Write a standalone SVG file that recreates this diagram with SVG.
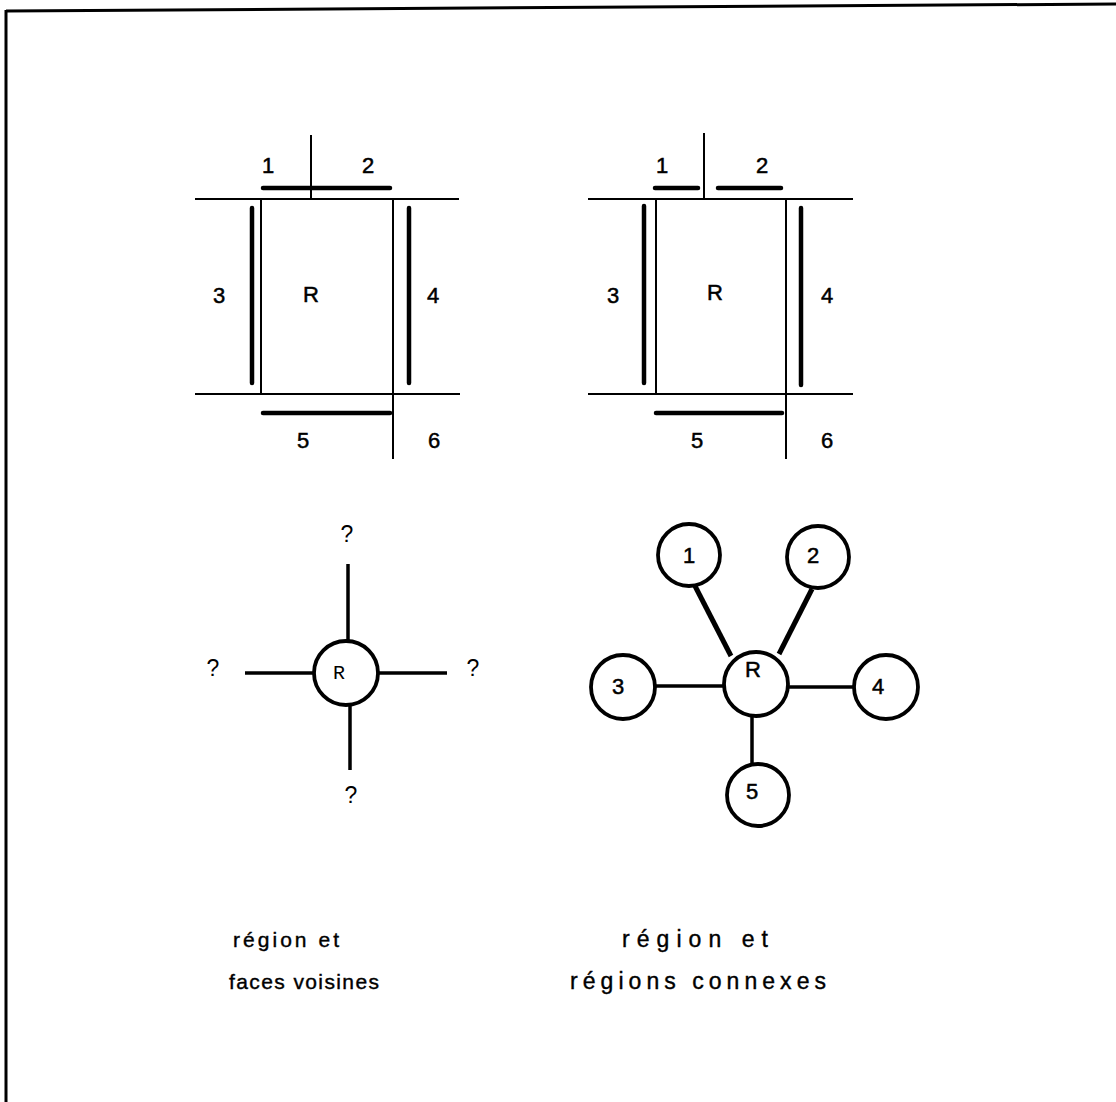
<svg xmlns="http://www.w3.org/2000/svg" width="1116" height="1102" viewBox="0 0 1116 1102">
  <style>
    .thin { stroke: #000; stroke-width: 2; fill: none; stroke-linecap: butt; }
    .bar { stroke: #000; stroke-width: 4.5; fill: none; stroke-linecap: round; }
    .edge { stroke: #000; stroke-width: 3.5; fill: none; }
    .edgeb { stroke: #000; stroke-width: 5; fill: none; }
    .node { stroke: #000; stroke-width: 3.8; fill: #fff; }
    .lbl { font-family: "Liberation Sans", Arial, sans-serif; font-size: 22px; fill: #000; stroke: #000; stroke-width: 0.5; text-anchor: middle; }
    .q { font-family: "Liberation Sans", Arial, sans-serif; font-size: 23px; fill: #000; text-anchor: middle; }
    .mono { font-family: "Liberation Mono", "Courier New", monospace; font-size: 20px; fill: #000; text-anchor: middle; }
    .cap { font-family: "Liberation Sans", Arial, sans-serif; font-size: 23px; fill: #000; stroke: #000; stroke-width: 0.4; }
    .capS { font-family: "Liberation Sans", Arial, sans-serif; font-size: 21px; fill: #000; stroke: #000; stroke-width: 0.4; }
    .frame { stroke: #000; stroke-width: 3; fill: none; }
  </style>

  <rect width="1116" height="1102" fill="#fff"/>

  <!-- page frame: top and left edges only -->
  <g id="frame">
    <line class="frame" x1="6" y1="11" x2="1116" y2="4"/>
    <line class="frame" x1="6" y1="10" x2="6" y2="1102"/>
  </g>

  <!-- region R and its neighbouring faces -->
  <g id="plan-faces">
    <line class="thin" x1="311" y1="135" x2="311" y2="199"/>
    <line class="thin" x1="195" y1="199" x2="459" y2="199"/>
    <line class="thin" x1="195" y1="394" x2="460" y2="394"/>
    <line class="thin" x1="261" y1="199" x2="261" y2="394"/>
    <line class="thin" x1="393" y1="199" x2="393" y2="459"/>
    <line class="bar" x1="263" y1="188" x2="390" y2="188"/>
    <line class="bar" x1="252" y1="208" x2="252" y2="383"/>
    <line class="bar" x1="409" y1="208" x2="409" y2="383"/>
    <line class="bar" x1="263" y1="413" x2="390" y2="413"/>
    <text class="lbl" x="268" y="173">1</text>
    <text class="lbl" x="368" y="173">2</text>
    <text class="lbl" x="219" y="303">3</text>
    <text class="lbl" x="311" y="302">R</text>
    <text class="lbl" x="433" y="303">4</text>
    <text class="lbl" x="303" y="448">5</text>
    <text class="lbl" x="434" y="448">6</text>
  </g>

  <!-- region R and its connected regions -->
  <g id="plan-regions">
    <line class="thin" x1="704" y1="133" x2="704" y2="199"/>
    <line class="thin" x1="588" y1="199" x2="853" y2="199"/>
    <line class="thin" x1="588" y1="394" x2="853" y2="394"/>
    <line class="thin" x1="656" y1="199" x2="656" y2="394"/>
    <line class="thin" x1="786" y1="199" x2="786" y2="459"/>
    <line class="bar" x1="655" y1="188" x2="698" y2="188"/>
    <line class="bar" x1="718" y1="188" x2="781" y2="188"/>
    <line class="bar" x1="644" y1="206" x2="644" y2="383"/>
    <line class="bar" x1="801" y1="208" x2="801" y2="385"/>
    <line class="bar" x1="656" y1="413" x2="782" y2="413"/>
    <text class="lbl" x="662" y="173">1</text>
    <text class="lbl" x="762" y="173">2</text>
    <text class="lbl" x="613" y="303">3</text>
    <text class="lbl" x="715" y="300">R</text>
    <text class="lbl" x="827" y="303">4</text>
    <text class="lbl" x="697" y="448">5</text>
    <text class="lbl" x="827" y="448">6</text>
  </g>

  <!-- graph with unknown neighbours -->
  <g id="faces-edges">
    <line class="edge" x1="348" y1="564" x2="348" y2="641"/>
    <line class="edge" x1="350" y1="705" x2="350" y2="770"/>
    <line class="edge" x1="245" y1="673" x2="314" y2="673"/>
    <line class="edge" x1="378" y1="673" x2="447" y2="673"/>
  </g>
  <g id="faces-R">
    <circle class="node" cx="346" cy="673" r="32"/>
    <text class="mono" x="339" y="679">R</text>
  </g>
  <g id="faces-unknown">
    <text class="q" x="347" y="542">?</text>
    <text class="q" x="213" y="676">?</text>
    <text class="q" x="473" y="676">?</text>
    <text class="q" x="351" y="803">?</text>
  </g>

  <!-- adjacency graph of regions -->
  <g id="connectors">
    <line class="edgeb" x1="695" y1="586" x2="731" y2="656"/>
    <line class="edgeb" x1="812" y1="589" x2="779" y2="654"/>
    <line class="edge" x1="655" y1="686" x2="724" y2="686"/>
    <line class="edge" x1="788" y1="687" x2="854" y2="687"/>
    <line class="edge" x1="752" y1="715" x2="752" y2="764"/>
  </g>
  <g id="node-R">
    <circle class="node" cx="756" cy="684" r="32"/>
    <text class="lbl" x="753" y="677">R</text>
  </g>
  <g id="node-1">
    <circle class="node" cx="689" cy="555" r="31"/>
    <text class="lbl" x="689" y="563">1</text>
  </g>
  <g id="node-2">
    <circle class="node" cx="818" cy="557" r="31"/>
    <text class="lbl" x="813" y="563">2</text>
  </g>
  <g id="node-3">
    <circle class="node" cx="623" cy="687" r="32"/>
    <text class="lbl" x="618" y="694">3</text>
  </g>
  <g id="node-4">
    <circle class="node" cx="886" cy="687" r="32"/>
    <text class="lbl" x="878" y="694">4</text>
  </g>
  <g id="node-5">
    <circle class="node" cx="758" cy="795" r="31"/>
    <text class="lbl" x="752" y="799">5</text>
  </g>

  <!-- captions -->
  <g id="captions">
    <text class="capS" x="233" y="947" textLength="106" lengthAdjust="spacing">région et</text>
    <text class="capS" x="229" y="989" textLength="150" lengthAdjust="spacing">faces voisines</text>
    <text class="cap" x="622" y="947" textLength="146" lengthAdjust="spacing">région et</text>
    <text class="cap" x="570" y="989" textLength="256" lengthAdjust="spacing">régions connexes</text>
  </g>
</svg>
